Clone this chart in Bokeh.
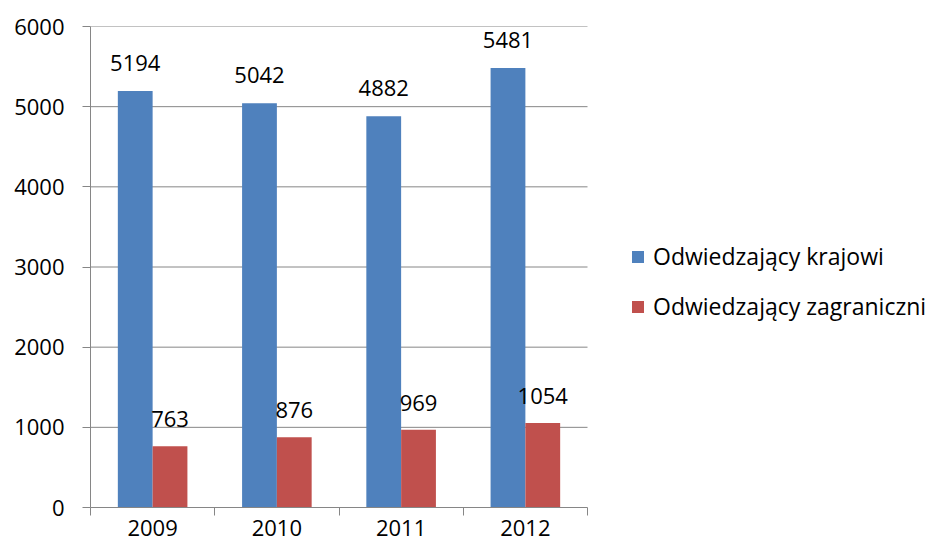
from bokeh.plotting import figure
from bokeh.models import ColumnDataSource, FixedTicker, Legend, LegendItem, Range1d
from bokeh.core.properties import value
from bokeh.embed import file_html
from bokeh.resources import INLINE

years = ["2009", "2010", "2011", "2012"]
krajowi = [5194, 5042, 4882, 5481]
zagraniczni = [763, 876, 969, 1054]
series_names = ["Odwiedzający krajowi", "Odwiedzający zagraniczni"]
y_ticks = [0, 1000, 2000, 3000, 4000, 5000, 6000]

FONT = "Open Sans"
FS = "22px"
GRAY = "#868686"
BLUE = "#4F81BD"
RED = "#C0504D"

n = len(years)
idx = list(range(n))
src = ColumnDataSource(dict(
    xb=[i + 0.5 - 0.14 for i in idx],
    xr=[i + 0.5 + 0.14 for i in idx],
    kraj=krajowi,
    zag=zagraniczni,
    kraj_t=[str(v) for v in krajowi],
    zag_t=[str(v) for v in zagraniczni],
))

# frame spans the legend area too; the category axis occupies the left part
x_end = n * 840 / 497
p = figure(width=930, height=549, output_backend="svg", toolbar_location=None,
           x_range=Range1d(0, x_end), y_range=Range1d(0, 6000),
           min_border_left=90, min_border_right=0, min_border_top=26,
           min_border_bottom=42)
p.outline_line_color = None
p.background_fill_color = "white"
p.xgrid.grid_line_color = None
p.ygrid.grid_line_color = None

# horizontal gridlines over the category area only
gy = y_ticks[1:]
p.segment(x0=[0] * len(gy), x1=[n] * len(gy), y0=gy, y1=gy,
          line_color=GRAY, line_width=1)

rb = p.vbar(x="xb", top="kraj", width=0.28, source=src, fill_color=BLUE, line_color=None)
rr = p.vbar(x="xr", top="zag", width=0.28, source=src, fill_color=RED, line_color=None)

p.text(x="xb", y="kraj", text="kraj_t", source=src, text_align="center",
       text_baseline="alphabetic", y_offset=-28, text_font=value(FONT),
       text_font_size=FS, text_color="black")
p.text(x="xr", y="zag", text="zag_t", source=src, text_align="center",
       text_baseline="alphabetic", y_offset=-27, text_font=value(FONT),
       text_font_size=FS, text_color="black")

# y axis
p.yaxis.ticker = FixedTicker(ticks=y_ticks)
p.yaxis.axis_line_color = GRAY
p.yaxis.major_tick_line_color = GRAY
p.yaxis.major_tick_out = 8
p.yaxis.major_tick_in = 0
p.yaxis.minor_tick_line_color = None
p.yaxis.major_label_standoff = 18
p.yaxis.major_label_text_font = FONT
p.yaxis.major_label_text_font_size = FS
p.yaxis.major_label_text_color = "black"

# x axis: boundary ticks as minor ticks, labels at centres
p.xaxis.bounds = (0, n)
p.xaxis.ticker = FixedTicker(ticks=[i + 0.5 for i in idx],
                             minor_ticks=[float(i) for i in range(n + 1)])
p.xaxis.major_label_overrides = {i + 0.5: years[i] for i in idx}
p.xaxis.axis_line_color = GRAY
p.xaxis.major_tick_line_color = None
p.xaxis.minor_tick_line_color = GRAY
p.xaxis.minor_tick_out = 8
p.xaxis.minor_tick_in = 0
p.xaxis.major_tick_out = 8
p.xaxis.major_tick_in = 0
p.xaxis.major_label_standoff = 4
p.xaxis.major_label_text_font = FONT
p.xaxis.major_label_text_font_size = FS
p.xaxis.major_label_text_color = "black"

legend = Legend(items=[LegendItem(label=series_names[0], renderers=[rb]),
                       LegendItem(label=series_names[1], renderers=[rr])],
                location=(540, 185), orientation="vertical")
legend.border_line_color = None
legend.background_fill_alpha = 0
legend.padding = 0
legend.margin = 0
legend.glyph_width = 15
legend.glyph_height = 15
legend.label_standoff = 8
legend.spacing = 18
legend.label_text_font = FONT
legend.label_text_font_size = "23px"
legend.label_text_color = "black"
p.add_layout(legend, "center")

open("out.html", "w").write(file_html(p, INLINE))
